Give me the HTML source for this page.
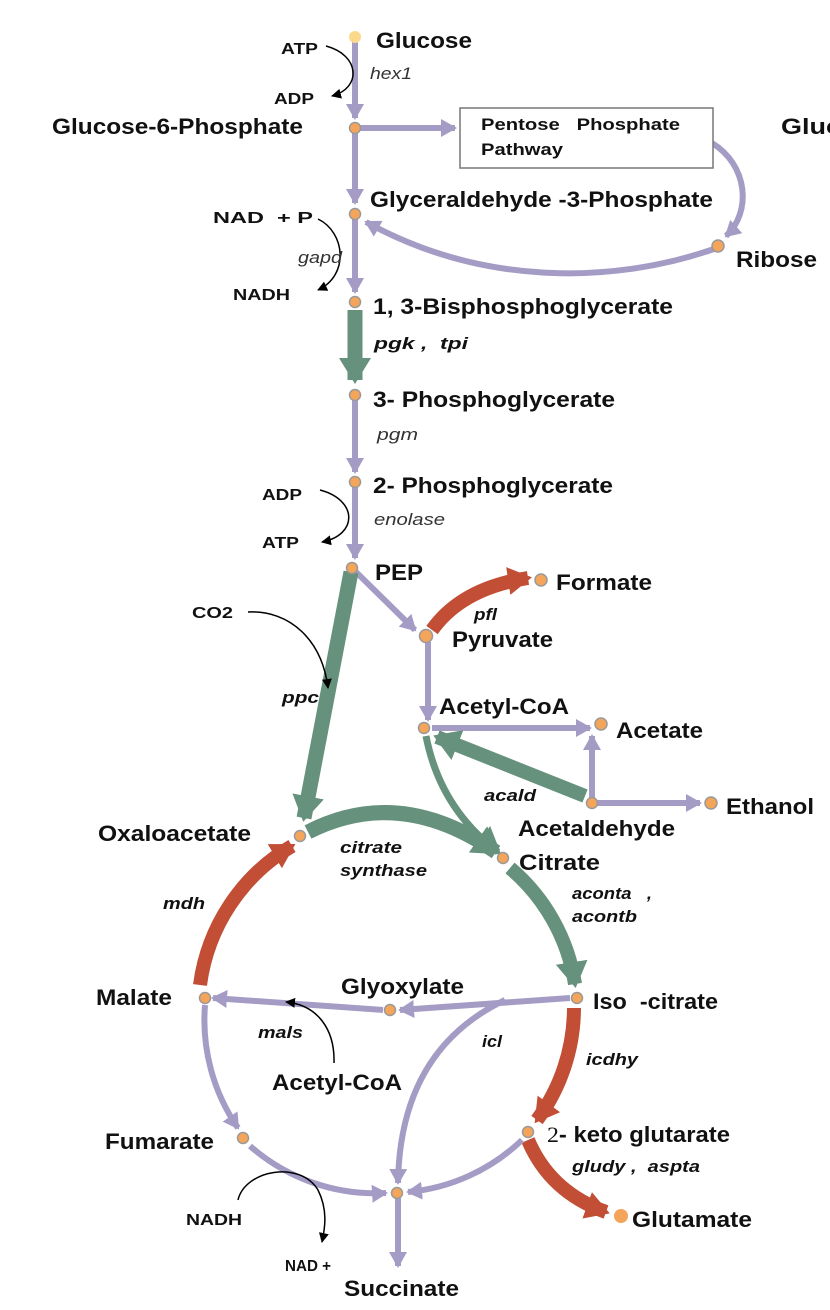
<!DOCTYPE html>
<html><head><meta charset="utf-8"><style>
html,body{margin:0;padding:0;background:#fff}
svg{display:block}
.m{font-family:"Liberation Sans",sans-serif;font-weight:bold;font-size:22px;fill:#111}
.c{font-family:"Liberation Sans",sans-serif;font-weight:bold;font-size:16px;fill:#111}
.e{font-family:"Liberation Sans",sans-serif;font-weight:bold;font-style:italic;font-size:17px;fill:#111}
.ei{font-family:"Liberation Sans",sans-serif;font-style:italic;font-size:17px;fill:#333}
.p{fill:none;stroke:#a59cc6;stroke-width:6}
.g{fill:none;stroke:#66917c;stroke-width:15}
.r{fill:none;stroke:#c24e35;stroke-width:14}
.k{fill:none;stroke:#000;stroke-width:1.5}
.n{fill:#f4a55a;stroke:#999;stroke-width:1.5}
</style></head><body>
<svg width="830" height="1310" viewBox="0 0 830 1310">
<defs>
<marker id="ap" markerUnits="userSpaceOnUse" markerWidth="20" markerHeight="20" refX="14" refY="9" orient="auto"><path d="M0,0 L16,9 L0,18 z" fill="#a59cc6"/></marker>
<marker id="ag" markerUnits="userSpaceOnUse" markerWidth="30" markerHeight="34" refX="22" refY="16" orient="auto"><path d="M0,0 L26,16 L0,32 z" fill="#66917c"/></marker>
<marker id="ar" markerUnits="userSpaceOnUse" markerWidth="28" markerHeight="30" refX="20" refY="14" orient="auto"><path d="M0,0 L24,14 L0,28 z" fill="#c24e35"/></marker>
<marker id="ak" markerUnits="userSpaceOnUse" markerWidth="12" markerHeight="12" refX="9" refY="5" orient="auto"><path d="M0,0 L10,5 L0,10 z" fill="#000"/></marker>
</defs>

<g>
<path class="p" d="M355,40 V118" marker-end="url(#ap)"/>
<path class="p" d="M360,128 H455" marker-end="url(#ap)"/>
<path class="p" d="M355,132 V203" marker-end="url(#ap)"/>
<path class="p" d="M712,143 C748,165 752,212 726,236" marker-end="url(#ap)"/>
<path class="p" d="M714,249 C610,285 480,285 366,222" marker-end="url(#ap)"/>
<path class="p" d="M355,218 V292" marker-end="url(#ap)"/>
<path class="g" d="M355,310 V380" marker-end="url(#ag)"/>
<path class="p" d="M355,400 V472" marker-end="url(#ap)"/>
<path class="p" d="M355,487 V558" marker-end="url(#ap)"/>
<path class="p" d="M356,572 L415,630" marker-end="url(#ap)"/>
<path class="g" d="M351,572 L304,818" marker-end="url(#ag)"/>
<path class="r" d="M432,630 Q462,588 528,578" marker-end="url(#ar)"/>
<path class="p" d="M428,642 V720" marker-end="url(#ap)"/>
<path class="p" d="M432,728 H590" marker-end="url(#ap)"/>
<path class="p" d="M592,800 V736" marker-end="url(#ap)"/>
<path class="p" d="M596,803 H700" marker-end="url(#ap)"/>
<path class="g" d="M585,796 L437,737" marker-end="url(#ag)" style="stroke-width:14"/>
<path class="g" d="M426,736 Q440,808 498,852" marker-end="url(#ag)" style="stroke-width:7"/>
<path class="g" d="M308,832 Q400,785 496,852" marker-end="url(#ag)"/>
</g>

<g>
<path class="r" d="M200,985 A190,190 0 0 1 292,846" marker-end="url(#ar)"/>
<path class="g" d="M510,868 A190,190 0 0 1 575,984" marker-end="url(#ag)" style="stroke-width:14"/>
<path class="r" d="M574,1008 A190,190 0 0 1 537,1120" marker-end="url(#ar)"/>
<path class="r" d="M528,1140 Q550,1192 606,1212" marker-end="url(#ar)"/>
<path class="p" d="M522,1140 A190,190 0 0 1 408,1192" marker-end="url(#ap)"/>
<path class="p" d="M205,1005 A190,190 0 0 0 238,1128" marker-end="url(#ap)"/>
<path class="p" d="M250,1146 A190,190 0 0 0 386,1193" marker-end="url(#ap)"/>
<path class="p" d="M570,998 L400,1010" marker-end="url(#ap)"/>
<path class="p" d="M383,1010 L213,998" marker-end="url(#ap)"/>
<path class="p" d="M505,1000 Q400,1050 398,1183" marker-end="url(#ap)"/>
<path class="p" d="M398,1198 V1266" marker-end="url(#ap)"/>
</g>

<g>
<path class="k" d="M326,46 C360,55 362,88 332,96" marker-end="url(#ak)"/>
<path class="k" d="M318,219 C345,232 350,275 318,290" marker-end="url(#ak)"/>
<path class="k" d="M320,490 C358,500 358,535 322,542" marker-end="url(#ak)"/>
<path class="k" d="M248,612 C290,610 322,640 328,688" marker-end="url(#ak)"/>
<path class="k" d="M334,1063 C335,1030 318,1005 286,1002" marker-end="url(#ak)"/>
<path class="k" d="M238,1200 C245,1170 300,1160 318,1190 C328,1210 325,1228 322,1242" marker-end="url(#ak)"/>
</g>

<rect x="460" y="108" width="253" height="60" fill="#fff" stroke="#777" stroke-width="1.5"/>
<text class="c" x="481" y="130" style="font-size:17px" textLength="199" lengthAdjust="spacingAndGlyphs">Pentose&#160;&#160;&#160;Phosphate</text>
<text class="c" x="481" y="155" style="font-size:17px" textLength="82" lengthAdjust="spacingAndGlyphs">Pathway</text>

<g>
<circle cx="355" cy="37" r="6" fill="#fbd98a"/>
<circle class="n" cx="355" cy="128" r="5.5"/>
<circle class="n" cx="355" cy="214" r="5.5"/>
<circle class="n" cx="355" cy="302" r="5.5"/>
<circle class="n" cx="355" cy="395" r="5.5"/>
<circle class="n" cx="355" cy="482" r="5.5"/>
<circle class="n" cx="352" cy="568" r="5.5"/>
<circle class="n" cx="426" cy="636" r="6.5"/>
<circle class="n" cx="541" cy="580" r="6"/>
<circle class="n" cx="424" cy="728" r="5.5"/>
<circle class="n" cx="601" cy="724" r="6"/>
<circle class="n" cx="592" cy="803" r="5.5"/>
<circle class="n" cx="711" cy="803" r="6"/>
<circle class="n" cx="718" cy="246" r="6"/>
<circle class="n" cx="300" cy="836" r="5.5"/>
<circle class="n" cx="503" cy="858" r="5.5"/>
<circle class="n" cx="577" cy="998" r="5.5"/>
<circle class="n" cx="390" cy="1010" r="5.5"/>
<circle class="n" cx="205" cy="998" r="5.5"/>
<circle class="n" cx="243" cy="1138" r="5.5"/>
<circle class="n" cx="397" cy="1193" r="5.5"/>
<circle class="n" cx="528" cy="1132" r="5.5"/>
<circle cx="621" cy="1216" r="7" fill="#f4a55a"/>
</g>

<g>
<text class="m" x="376" y="48" textLength="96" lengthAdjust="spacingAndGlyphs">Glucose</text>
<text class="m" x="52" y="134" textLength="251" lengthAdjust="spacingAndGlyphs">Glucose-6-Phosphate</text>
<text class="m" x="781" y="134" textLength="60" lengthAdjust="spacingAndGlyphs">Gluc</text>
<text class="m" x="370" y="207" textLength="343" lengthAdjust="spacingAndGlyphs">Glyceraldehyde -3-Phosphate</text>
<text class="m" x="736" y="267" textLength="81" lengthAdjust="spacingAndGlyphs">Ribose</text>
<text class="m" x="373" y="314" textLength="300" lengthAdjust="spacingAndGlyphs">1, 3-Bisphosphoglycerate</text>
<text class="m" x="373" y="407" textLength="242" lengthAdjust="spacingAndGlyphs">3- Phosphoglycerate</text>
<text class="m" x="373" y="493" textLength="240" lengthAdjust="spacingAndGlyphs">2- Phosphoglycerate</text>
<text class="m" x="375" y="580" textLength="48" lengthAdjust="spacingAndGlyphs">PEP</text>
<text class="m" x="556" y="590" textLength="96" lengthAdjust="spacingAndGlyphs">Formate</text>
<text class="m" x="452" y="647" textLength="101" lengthAdjust="spacingAndGlyphs">Pyruvate</text>
<text class="m" x="439" y="714" textLength="130" lengthAdjust="spacingAndGlyphs">Acetyl-CoA</text>
<text class="m" x="616" y="738" textLength="87" lengthAdjust="spacingAndGlyphs">Acetate</text>
<text class="m" x="726" y="814" textLength="88" lengthAdjust="spacingAndGlyphs">Ethanol</text>
<text class="m" x="518" y="836" textLength="157" lengthAdjust="spacingAndGlyphs">Acetaldehyde</text>
<text class="m" x="98" y="841" textLength="153" lengthAdjust="spacingAndGlyphs">Oxaloacetate</text>
<text class="m" x="519" y="870" textLength="81" lengthAdjust="spacingAndGlyphs">Citrate</text>
<text class="m" x="96" y="1005" textLength="76" lengthAdjust="spacingAndGlyphs">Malate</text>
<text class="m" x="341" y="994" textLength="123" lengthAdjust="spacingAndGlyphs">Glyoxylate</text>
<text class="m" x="593" y="1009" textLength="125" lengthAdjust="spacingAndGlyphs">Iso&#160;&#160;-citrate</text>
<text class="m" x="272" y="1090" textLength="130" lengthAdjust="spacingAndGlyphs">Acetyl-CoA</text>
<text class="m" x="105" y="1149" textLength="109" lengthAdjust="spacingAndGlyphs">Fumarate</text>
<text class="m" x="547" y="1142" textLength="183" lengthAdjust="spacingAndGlyphs"><tspan style="font-family:'Liberation Serif',serif;font-weight:normal">2</tspan>- keto glutarate</text>
<text class="m" x="632" y="1227" textLength="120" lengthAdjust="spacingAndGlyphs">Glutamate</text>
<text class="m" x="344" y="1296" textLength="115" lengthAdjust="spacingAndGlyphs">Succinate</text>
</g>

<g>
<text class="c" x="281" y="54" textLength="37" lengthAdjust="spacingAndGlyphs">ATP</text>
<text class="c" x="274" y="104" textLength="40" lengthAdjust="spacingAndGlyphs">ADP</text>
<text class="c" x="213" y="223" textLength="100" lengthAdjust="spacingAndGlyphs">NAD&#160;&#160;+ P</text>
<text class="c" x="233" y="300" textLength="57" lengthAdjust="spacingAndGlyphs">NADH</text>
<text class="c" x="262" y="500" textLength="40" lengthAdjust="spacingAndGlyphs">ADP</text>
<text class="c" x="262" y="548" textLength="37" lengthAdjust="spacingAndGlyphs">ATP</text>
<text class="c" x="192" y="618" textLength="41" lengthAdjust="spacingAndGlyphs">CO2</text>
<text class="c" x="186" y="1225" textLength="56" lengthAdjust="spacingAndGlyphs">NADH</text>
<text class="c" x="285" y="1271" textLength="46" lengthAdjust="spacingAndGlyphs">NAD +</text>
</g>

<g>
<text class="ei" x="370" y="79" textLength="42" lengthAdjust="spacingAndGlyphs">hex1</text>
<text class="ei" x="298" y="263" textLength="44" lengthAdjust="spacingAndGlyphs">gapd</text>
<text class="e" x="374" y="349" textLength="94" lengthAdjust="spacingAndGlyphs">pgk ,&#160;&#160;tpi</text>
<text class="ei" x="377" y="440" textLength="41" lengthAdjust="spacingAndGlyphs">pgm</text>
<text class="ei" x="374" y="525" textLength="71" lengthAdjust="spacingAndGlyphs">enolase</text>
<text class="e" x="474" y="620" textLength="23" lengthAdjust="spacingAndGlyphs">pfl</text>
<text class="e" x="282" y="703" textLength="37" lengthAdjust="spacingAndGlyphs">ppc</text>
<text class="e" x="484" y="801" textLength="52" lengthAdjust="spacingAndGlyphs">acald</text>
<text class="e" x="340" y="853" textLength="62" lengthAdjust="spacingAndGlyphs">citrate</text>
<text class="e" x="340" y="876" textLength="87" lengthAdjust="spacingAndGlyphs">synthase</text>
<text class="e" x="572" y="899" textLength="80" lengthAdjust="spacingAndGlyphs">aconta&#160;&#160;&#160;,</text>
<text class="e" x="572" y="922" textLength="65" lengthAdjust="spacingAndGlyphs">acontb</text>
<text class="e" x="163" y="909" textLength="42" lengthAdjust="spacingAndGlyphs">mdh</text>
<text class="e" x="258" y="1038" textLength="45" lengthAdjust="spacingAndGlyphs">mals</text>
<text class="e" x="482" y="1047" textLength="20" lengthAdjust="spacingAndGlyphs">icl</text>
<text class="e" x="586" y="1065" textLength="52" lengthAdjust="spacingAndGlyphs">icdhy</text>
<text class="e" x="572" y="1172" textLength="128" lengthAdjust="spacingAndGlyphs">gludy ,&#160;&#160;aspta</text>
</g>
</svg>
</body></html>
